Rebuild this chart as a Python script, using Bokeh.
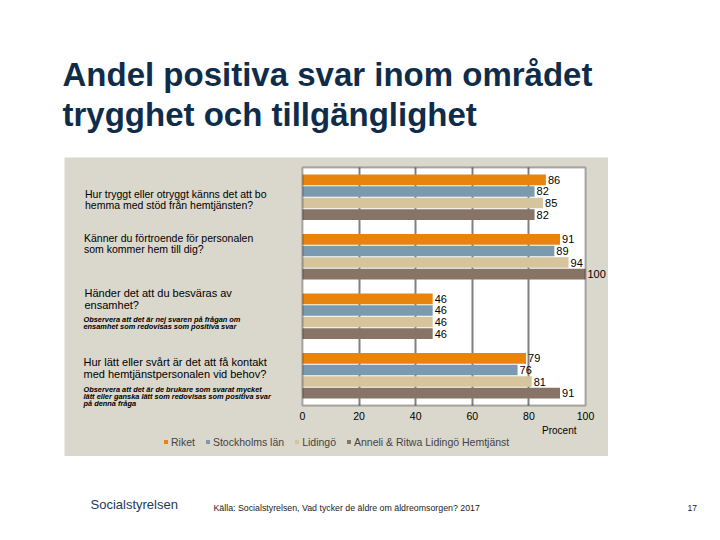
from bokeh.plotting import figure
from bokeh.models import (Range1d, Label, LabelSet, ColumnDataSource, Legend,
                          LegendItem, FixedTicker, Spacer, BoxAnnotation)
from bokeh.core.properties import value
from bokeh.layouts import column, row
from bokeh.transform import dodge
from bokeh.embed import file_html
from bokeh.resources import INLINE

# ---------------- data ----------------
question_keys = ["trygg", "fortroende", "ensamhet", "kontakt"]
question_lines = [
    ["Hur tryggt eller otryggt känns det att bo", "hemma med stöd från hemtjänsten?"],
    ["Känner du förtroende för personalen", "som kommer hem till dig?"],
    ["Händer det att du besväras av", "ensamhet?"],
    ["Hur lätt eller svårt är det att få kontakt", "med hemtjänstpersonalen vid behov?"],
]
note_lines = [
    [],
    [],
    ["Observera att det är nej svaren på frågan om",
     "ensamhet som redovisas som positiva svar"],
    ["Observera att det är de brukare som svarat mycket",
     "lätt eller ganska lätt som redovisas som positiva svar",
     "på denna fråga"],
]
series_names = ["Riket", "Stockholms län", "Lidingö", "Anneli & Ritwa Lidingö Hemtjänst"]
riket = [86, 91, 46, 79]
stockholms_lan = [82, 89, 46, 76]
lidingo = [85, 94, 46, 81]
anneli_ritwa = [82, 100, 46, 91]
x_ticks = [0, 20, 40, 60, 80, 100]

title_lines = ["Andel positiva svar inom området", "trygghet och tillgänglighet"]
source_text = "Källa: Socialstyrelsen, Vad tycker de äldre om äldreomsorgen? 2017"
page_number = "17"
logo_text = "Socialstyrelsen"
x_axis_label = "Procent"

# ---------------- style ----------------
colors = ["#E8830C", "#7A9AAF", "#D5C49C", "#877467"]
PANEL = "#DAD7CC"
NAVY = "#0F2D4A"
FONT = "Liberation Sans"

# panel (chart figure) geometry in pixels; page origin of the panel = (64, 157)
PX0, PY0 = 64, 157
CH_W, CH_H = 544, 299
PLOT_L, PLOT_T, PLOT_W, PLOT_H = 238, 10, 283, 238
N = len(question_keys)
XMAX = x_ticks[-1]

x_start = -PLOT_L / PLOT_W * XMAX
x_end = (CH_W - PLOT_L) / PLOT_W * XMAX
y_bottom = (CH_H - PLOT_T) / PLOT_H * N
y_top = -PLOT_T / PLOT_H * N

def dx(px):  # page pixel -> data x
    return (px - PX0 - PLOT_L) / PLOT_W * XMAX
def dy(py):  # page pixel -> data y
    return (py - PY0 - PLOT_T) / PLOT_H * N

pitch = 0.195
offsets = [-1.5 * pitch, -0.5 * pitch, 0.5 * pitch, 1.5 * pitch]
bar_h = 0.178

src = ColumnDataSource(dict(
    pos=[i + 0.5 for i in range(N)],
    riket=riket, stockholms_lan=stockholms_lan, lidingo=lidingo, anneli_ritwa=anneli_ritwa,
    riket_t=[str(v) for v in riket],
    stockholms_lan_t=[str(v) for v in stockholms_lan],
    lidingo_t=[str(v) for v in lidingo],
    anneli_ritwa_t=[str(v) for v in anneli_ritwa],
))
cols = ["riket", "stockholms_lan", "lidingo", "anneli_ritwa"]

p = figure(width=CH_W, height=CH_H, x_range=Range1d(x_start, x_end),
           y_range=Range1d(y_bottom, y_top),
           output_backend="svg", toolbar_location=None, min_border=0)
p.background_fill_color = PANEL
p.border_fill_color = PANEL
p.outline_line_color = None

# white plot area (drawn beneath grid)
p.add_layout(BoxAnnotation(left=0, right=XMAX, top=0, bottom=N, fill_color="white",
                           fill_alpha=1, line_color=None, level="image"))

items = []
for c, name, col, off in zip(cols, series_names, colors, offsets):
    r = p.hbar(y=dodge("pos", off, range=p.y_range), right=c, left=0, height=bar_h,
               source=src, fill_color=col, line_color=None)
    items.append(LegendItem(label=name, renderers=[r]))
    ls = LabelSet(x=c, y=dodge("pos", off, range=p.y_range), text=c + "_t", source=src,
                  x_offset=2, text_baseline="middle", text_align="left",
                  text_font_size=value("11px"), text_font=value(FONT), text_color="black")
    p.add_layout(ls)

# plot area border
p.add_layout(BoxAnnotation(left=0, right=XMAX, top=0, bottom=N, fill_alpha=0,
                           line_color="black", line_width=2))

# x axis pinned to the bottom of the plot area
p.xaxis.fixed_location = N
p.xaxis.ticker = FixedTicker(ticks=x_ticks)
p.xaxis.axis_line_color = None
p.xaxis.major_tick_line_color = None
p.xaxis.minor_tick_line_color = None
p.xaxis.major_tick_out = 0
p.xaxis.major_tick_in = 0
p.xaxis.major_label_standoff = 6
p.xaxis.major_label_text_font_size = "10.5px"
p.xaxis.major_label_text_font = FONT
p.xaxis.major_label_text_color = "black"
p.yaxis.visible = False
p.ygrid.visible = False

inner_ticks = [t for t in x_ticks if 0 < t < XMAX]
grid = p.xgrid[0]
if "cross_bounds" in grid.properties():
    grid.ticker = FixedTicker(ticks=inner_ticks)
    grid.cross_bounds = (0, N)
    grid.grid_line_color = "#808080"
    grid.grid_line_width = 2
else:
    grid.visible = False
    p.segment(x0=inner_ticks, x1=inner_ticks, y0=[0] * len(inner_ticks),
              y1=[N] * len(inner_ticks), line_color="#808080", line_width=2, level="underlay")

legend = Legend(items=items, location=(163 - PX0, PY0 + CH_H - 447.5), orientation="horizontal",
                glyph_width=5, glyph_height=5, label_standoff=3, spacing=10,
                padding=0, margin=0, border_line_color=None, background_fill_alpha=0,
                label_text_font_size="10.5px", label_text_font=FONT, label_height=12,
                label_width=10)
p.add_layout(legend)

# text centres (page pixels)
q_pos = [(84.5, [193.0, 204.0], 10.5), (83.5, [237.6, 248.6], 10.5),
         (84, [292.7, 304.2], 11), (83, [361.8, 373.3], 11)]
n_pos = [[], [], [318.6, 326.0], [388.6, 396.0, 403.3]]
for lines, notes, (qx, qys, fs), nys in zip(question_lines, note_lines, q_pos, n_pos):
    for t, yy in zip(lines, qys):
        p.add_layout(Label(x=dx(qx), y=dy(yy), text=t, text_baseline="middle",
                           text_font_size=f"{fs}px", text_font=FONT, text_color="black"))
    for t, yy in zip(notes, nys):
        p.add_layout(Label(x=dx(83), y=dy(yy), text=t, text_baseline="middle",
                           text_font_size="7.4px", text_font=FONT, text_font_style="bold italic",
                           text_color="black"))

p.add_layout(Label(x=dx(576), y=dy(429.5), text=x_axis_label, text_align="right",
                   text_baseline="middle", text_font_size="10px", text_font=FONT,
                   text_color="black"))

# ---------------- title & footer ----------------
def blank(w, h):
    f = figure(width=w, height=h, x_range=Range1d(0, w), y_range=Range1d(0, h),
               output_backend="svg", toolbar_location=None, min_border=0)
    f.axis.visible = False
    f.grid.visible = False
    f.outline_line_color = None
    f.background_fill_color = "white"
    f.border_fill_color = "white"
    return f

TH = PY0
t = blank(704, TH)
for line, mid in zip(title_lines, [74, 114]):
    t.add_layout(Label(x=62, y=TH - mid, text=line, text_baseline="middle",
                       text_font_size="33px", text_font=FONT, text_font_style="bold",
                       text_color=NAVY))

FTOP = PY0 + CH_H
FH = 76
f = blank(704, FH)
f.add_layout(Label(x=90, y=FH - (504 - FTOP), text=logo_text, text_baseline="middle",
                   text_font_size="13px", text_font=FONT, text_color="#1B3A5C"))
f.add_layout(Label(x=213, y=FH - (507 - FTOP), text=source_text, text_baseline="middle",
                   text_font_size="8.8px", text_font=FONT, text_color="#222222"))
f.add_layout(Label(x=687, y=FH - (507 - FTOP), text=page_number, text_baseline="middle",
                   text_font_size="8.5px", text_font=FONT, text_color="#222222"))

layout = column(t, row(Spacer(width=PX0, height=CH_H), p), f)
open("out.html", "w").write(file_html(layout, INLINE))
